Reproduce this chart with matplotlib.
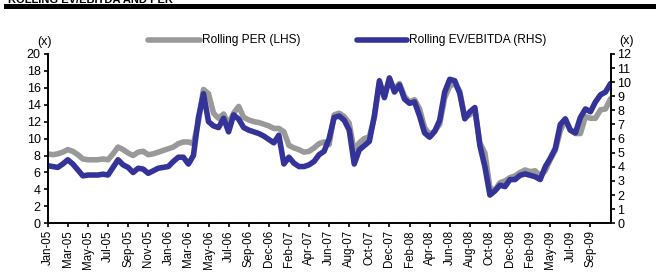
import matplotlib.pyplot as plt
from matplotlib.patches import Rectangle
from matplotlib.lines import Line2D

plt.rcParams['font.family'] = ['Liberation Sans', 'DejaVu Sans']

# month labels on the category axis (one every 4 samples)
tick_labels = ["Jan-05", "Mar-05", "May-05", "Jul-05", "Sep-05", "Nov-05",
               "Jan-06", "Mar-06", "May-06", "Jul-06", "Sep-06", "Dec-06",
               "Feb-07", "Apr-07", "Jun-07", "Aug-07", "Oct-07", "Dec-07",
               "Feb-08", "Apr-08", "Jun-08", "Aug-08", "Oct-08", "Dec-08",
               "Feb-09", "May-09", "Jul-09", "Sep-09"]

# Rolling PER (LHS)
per = [8.2, 8.1, 8.2, 8.4, 8.7, 8.5, 8.1, 7.6, 7.5, 7.5, 7.5, 7.6, 7.5, 8.2,
       9.0, 8.7, 8.3, 8.0, 8.4, 8.5, 8.1, 8.2, 8.4, 8.6, 8.8, 9.0, 9.4, 9.6,
       9.6, 9.4, 12.0, 15.8, 15.3, 13.0, 12.4, 12.9, 11.7, 13.0, 13.8, 12.5,
       12.2, 12.0, 11.9, 11.7, 11.5, 11.2, 11.2, 10.8, 9.2, 8.9, 8.7, 8.4,
       8.5, 8.9, 9.4, 9.6,
       9.3, 12.8, 13.0, 12.6, 11.8, 8.5, 9.5, 10.0, 10.2, 12.5, 16.5, 15.0,
       17.0, 15.8, 16.5, 15.0, 14.3, 14.6, 13.5, 11.3, 10.5, 10.9, 11.7,
       14.8, 16.2, 16.5, 15.6, 12.5, 12.8, 13.4, 9.5, 8.3, 4.2, 3.9, 4.8,
       5.0, 5.4, 5.6, 6.0, 6.3, 6.1, 6.2, 5.6, 6.2, 7.5, 8.6, 10.9, 12.2,
       11.0, 10.6, 10.6, 12.6, 12.4, 12.4, 13.4, 13.5, 14.7]

# Rolling EV/EBITDA (RHS)
ev_ebitda = [4.08, 4.02, 3.96, 4.2, 4.5, 4.2, 3.78, 3.36, 3.42, 3.42, 3.42,
             3.48, 3.42, 3.96, 4.5, 4.14, 3.96, 3.6, 3.9, 3.84, 3.54, 3.72,
             3.9, 3.96, 4.02, 4.38, 4.68, 4.68, 4.2, 4.8, 7.5, 9.18, 7.2,
             6.9, 6.78, 7.44, 6.48, 7.68, 7.38, 6.78, 6.6, 6.48, 6.36, 6.18,
             5.94, 5.7, 6.24, 4.2, 4.68, 4.26, 4.02, 4.02, 4.14, 4.38, 4.86,
             5.1,
             6.0, 7.5, 7.6, 7.3, 6.6, 4.2, 5.2, 5.5, 5.8, 7.6, 10.1, 8.9,
             10.3, 9.3, 9.8, 8.8, 8.5, 8.6, 7.6, 6.4, 6.1, 6.5, 7.3, 9.3,
             10.2, 10.1, 9.2, 7.4, 7.9, 8.2, 5.5, 4.0, 2.0, 2.3, 2.7, 2.6,
             3.1, 3.1, 3.4, 3.5, 3.4, 3.3, 3.1, 4.0, 4.6, 5.3, 7.0, 7.4, 6.6,
             6.4, 7.5, 8.1, 7.9, 8.6, 9.1, 9.3, 9.9]

x = list(range(len(per)))

grey = '#999999'
navy = '#333399'

fig = plt.figure(figsize=(6.56, 2.75), dpi=100)
ax = fig.add_axes([0.0727, 0.188, 0.858, 0.616])
ax2 = ax.twinx()

ax.plot(x, per, color=grey, lw=4, solid_capstyle='round',
        solid_joinstyle='round')
ax2.plot(x, ev_ebitda, color=navy, lw=4, solid_capstyle='round',
         solid_joinstyle='round')

ax.set_zorder(1)
ax2.set_zorder(2)
ax.patch.set_visible(False)

ax.set_xlim(0, 112)
ax.set_ylim(0, 20)
ax2.set_ylim(0, 12)
ax.set_yticks(range(0, 21, 2))
ax2.set_yticks(range(0, 13))
ax.set_xticks(range(0, 112, 4))
ax.set_xticklabels(tick_labels, rotation=90)

for a in (ax, ax2):
    a.spines['top'].set_visible(False)
    for s in a.spines.values():
        s.set_linewidth(1.2)
    a.tick_params(labelsize=9, length=3, width=1.2, pad=2)
ax.tick_params(axis='x', labelsize=8.3)

fig.text(44 / 656, 1 - 42 / 275, '(x)', fontsize=9, ha='center', va='center')
fig.text(627 / 656, 1 - 41 / 275, '(x)', fontsize=9, ha='center', va='center')

# legend drawn by hand so the keys sit where the original has them
ly = 1 - 40 / 275
for x0, x1, col, txt in [(148, 200, grey, 'Rolling PER (LHS)'),
                         (357, 407, navy, 'Rolling EV/EBITDA (RHS)')]:
    fig.add_artist(Line2D([x0 / 656, x1 / 656], [ly, ly], color=col, lw=4,
                          solid_capstyle='round', transform=fig.transFigure))
    fig.text((x1 + 2) / 656, ly, txt, fontsize=8.6, va='center')

# heading and black rule at the top
fig.text(8 / 656, 1 - 3 / 275, 'ROLLING EV/EBITDA AND PER', fontsize=8,
         fontweight='bold', va='baseline')
fig.add_artist(Rectangle((4 / 656, 1 - 9 / 275), 1, 5 / 275,
                         transform=fig.transFigure, color='black', lw=0))

fig.savefig('out.png', dpi=100)
